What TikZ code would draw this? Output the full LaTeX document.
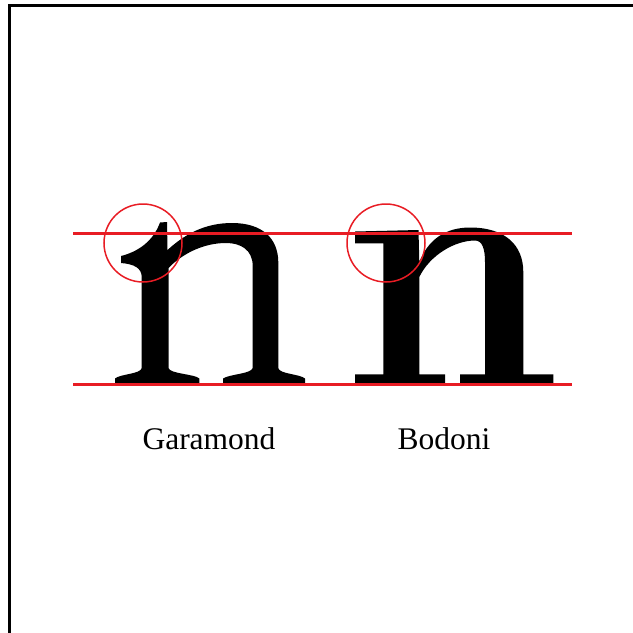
\documentclass[tikz,border=0pt]{standalone}
\usepackage{fontspec}
\setmainfont{Liberation Serif}
\definecolor{guidered}{RGB}{232,28,36}

\begin{document}
\begin{tikzpicture}[x=1pt, y=-1pt,
  guide/.style={line width=3pt, draw=guidered},
  loupe/.style={circle, draw=guidered, line width=1.5pt, minimum size=78pt, inner sep=0pt},
  fontname/.style={anchor=base, inner sep=0pt, font=\fontsize{31.5}{36}\selectfont},
  glyph/.style={fill=black}]
  \useasboundingbox (0,0) rectangle (633,633);
  \draw[line width=3.5pt] (9.5,640) -- (9.5,5.5) -- (640,5.5);

  % the two n glyphs
  \fill[glyph] (121,256) .. controls (137,252) and (153,242) .. (160,222.5) -- (167,222)
    -- (167.5,250) .. controls (185,234) and (205,223) .. (232,223)
    .. controls (262,223) and (278,238) .. (278.3,262) -- (278.3,368)
    .. controls (279,374) and (300,374) .. (305,378.5) -- (305,384.3) -- (223,384.3) -- (223,378.5)
    .. controls (230,374) and (251,374) .. (252.7,368) -- (252.7,266)
    .. controls (252.7,250) and (241,243) .. (226,243)
    .. controls (202,243) and (181,255) .. (168.5,268) -- (168.5,368)
    .. controls (170,374) and (195,374) .. (199.3,378.5) -- (199.3,384.3) -- (115,384.3) -- (115,378.5)
    .. controls (120,374) and (141,374) .. (141.7,368) -- (141.7,277)
    .. controls (141.7,268) and (134,264) .. (121,263) -- cycle;
  \fill[glyph] (355,231.5) -- (418.5,230) -- (419.3,262)
    .. controls (428,240) and (445,227.5) .. (470,227.5)
    .. controls (505,227.5) and (523.3,245) .. (523.3,272) -- (523.3,374.3) -- (553.3,374.3)
    -- (553.3,384.3) -- (460,384.3) -- (460,374.3) -- (485,374.3) -- (485,262)
    .. controls (485,248) and (482,240.5) .. (475,240.5)
    .. controls (455,240.5) and (430,255) .. (419.3,277) -- (419.3,374.3) -- (445,374.3)
    -- (445,384.3) -- (355,384.3) -- (355,374.3) -- (383.3,374.3) -- (383.3,243.3)
    -- (355,243.3) -- cycle;

  \coordinate (capL) at (73,233);
  \coordinate (capR) at (572,233);
  \coordinate (baseL) at (73,384);
  \coordinate (baseR) at (572,384);
  \draw[guide] (capL) -- (capR);
  \draw[guide] (baseL) -- (baseR);

  \node[loupe] (garamondserif) at (143,243) {};
  \node[loupe] (bodoniserif) at (386,243) {};

  \node[fontname] (garamond) at (209,449) {Garamond};
  \node[fontname] (bodoni) at (444,449) {Bodoni};
\end{tikzpicture}
\end{document}
